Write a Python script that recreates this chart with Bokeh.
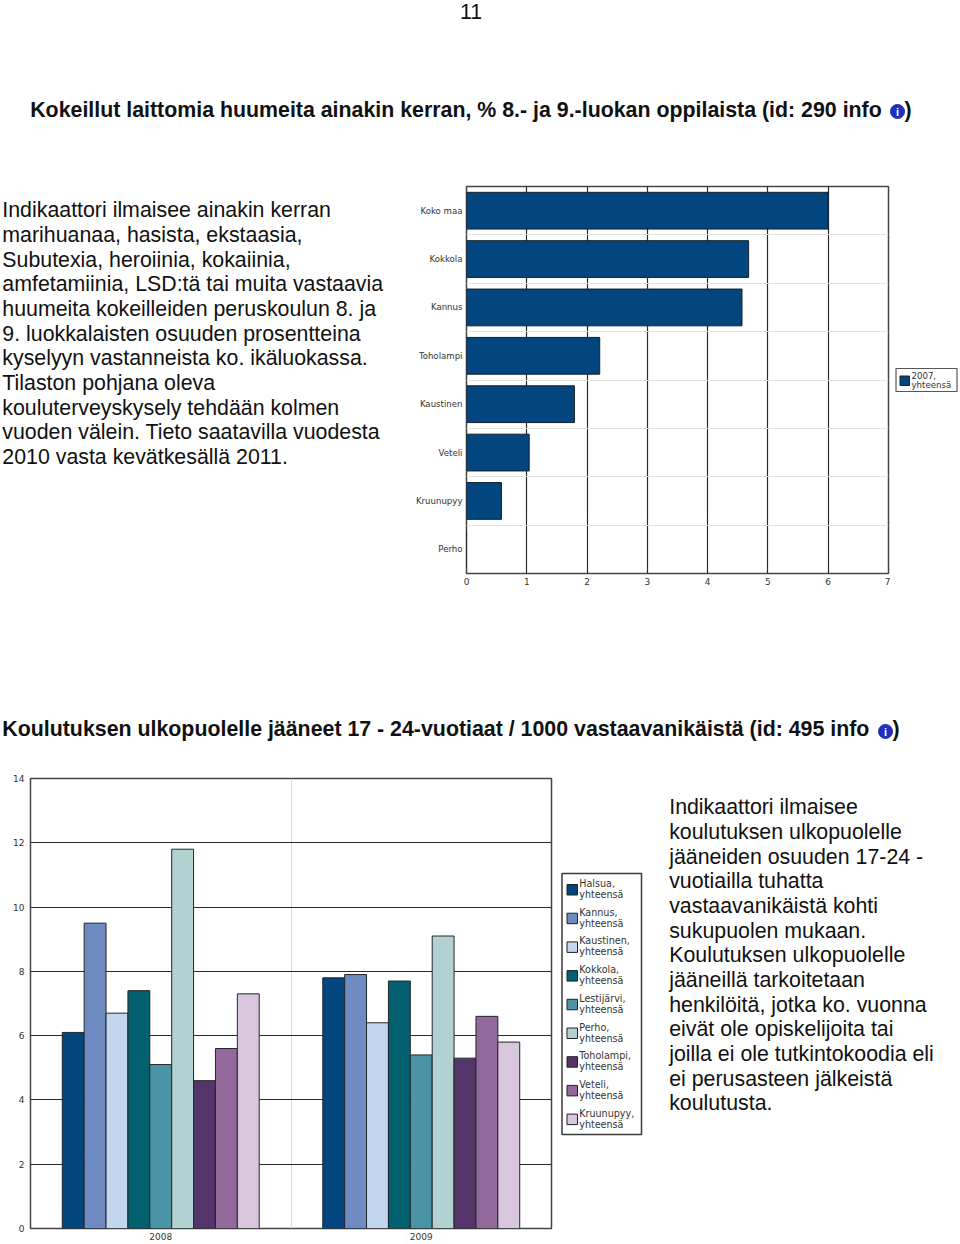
from bokeh.plotting import figure
from bokeh.layouts import column, row
from bokeh.models import Range1d, FixedTicker
from bokeh.core.properties import value
from bokeh.embed import file_html
from bokeh.resources import INLINE
import numpy as np

page_number = "11"
title1 = "Kokeillut laittomia huumeita ainakin kerran, % 8.- ja 9.-luokan oppilaista (id: 290 info"
title2 = "Koulutuksen ulkopuolelle jääneet 17 - 24-vuotiaat / 1000 vastaavanikäistä (id: 495 info"
para1 = ["Indikaattori ilmaisee ainakin kerran", "marihuanaa, hasista, ekstaasia,",
         "Subutexia, heroiinia, kokaiinia,", "amfetamiinia, LSD:tä tai muita vastaavia",
         "huumeita kokeilleiden peruskoulun 8. ja", "9. luokkalaisten osuuden prosentteina",
         "kyselyyn vastanneista ko. ikäluokassa.", "Tilaston pohjana oleva",
         "kouluterveyskysely tehdään kolmen", "vuoden välein. Tieto saatavilla vuodesta",
         "2010 vasta kevätkesällä 2011."]
para2 = ["Indikaattori ilmaisee", "koulutuksen ulkopuolelle", "jääneiden osuuden 17-24 -",
         "vuotiailla tuhatta", "vastaavanikäistä kohti", "sukupuolen mukaan.",
         "Koulutuksen ulkopuolelle", "jääneillä tarkoitetaan", "henkilöitä, jotka ko. vuonna",
         "eivät ole opiskelijoita tai", "joilla ei ole tutkintokoodia eli", "ei perusasteen jälkeistä",
         "koulutusta."]

areas1 = ["Koko maa", "Kokkola", "Kannus", "Toholampi", "Kaustinen", "Veteli", "Kruunupyy", "Perho"]
values1 = [6.0, 4.68, 4.57, 2.21, 1.79, 1.04, 0.58, 0.0]
series1_label = ["2007,", "yhteensä"]
series1_color = "#03457f"

years = ["2008", "2009"]
series2 = ["Halsua", "Kannus", "Kaustinen", "Kokkola", "Lestijärvi", "Perho", "Toholampi", "Veteli", "Kruunupyy"]
colors2 = ["#03457f", "#6d8bc0", "#c4d5ef", "#03606f", "#4b94a5", "#b2d1d1", "#55346a", "#92699a", "#d8c6dc"]
v2008 = [6.1, 9.5, 6.7, 7.4, 5.1, 11.8, 4.6, 5.6, 7.3]
v2009 = [7.8, 7.9, 6.4, 7.7, 5.4, 9.1, 5.3, 6.6, 5.8]

SANS = value("Liberation Sans")
SMALL = "DejaVu Sans"
INK = "#333333"


def page_fig(x0, x1, y0, y1, top=0, bottom=0):
    """A text-only panel whose data units are page pixels."""
    p = figure(width=x1 - x0, height=y1 - y0, x_range=Range1d(x0, x1), y_range=Range1d(y1 - bottom, y0 + top),
               x_axis_type=None, y_axis_type=None, toolbar_location=None, output_backend="svg",
               min_border_left=0, min_border_right=0, min_border_top=top, min_border_bottom=bottom,
               outline_line_color=None)
    p.grid.visible = False
    return p


def write(p, x, y, text, size="21.35px", bold=False, font=SANS, color="#111111", align="left"):
    p.text([x], [y], text=[text], text_font=font, text_font_size=size,
           text_font_style="bold" if bold else "normal", text_color=color,
           text_align=align, text_baseline="middle")


def info_icon(p, x, y):
    p.scatter([x], [y], size=14, marker="circle", fill_color="#1f2fc4", line_color="#1f2fa0")
    p.text([x], [y], text=["i"], text_font=SANS, text_font_size="11px", text_font_style="bold",
           text_color="white", text_align="center", text_baseline="middle")


def style_axis(ax, standoff=4, size="9px"):
    ax.axis_line_color = None
    ax.major_tick_line_color = None
    ax.minor_tick_line_color = None
    ax.major_tick_in = 0
    ax.major_tick_out = 0
    ax.minor_tick_in = 0
    ax.minor_tick_out = 0
    ax.major_label_text_font = SMALL
    ax.major_label_text_font_size = size
    ax.major_label_text_color = INK
    ax.major_label_standoff = standoff


# Header 1
h1 = page_fig(0, 960, 0, 178)
write(h1, 459.5, 11.3, page_number)
write(h1, 29.7, 109.2, title1, bold=True)
info_icon(h1, 897, 111)
write(h1, 904, 109.2, ")", bold=True)

# Left paragraph
left1 = page_fig(0, 405, 178, 600, top=8, bottom=27)
for i, line in enumerate(para1):
    write(left1, 1.8, 209.9 + i * 24.65, line)

# Chart 1
c1 = figure(width=485, height=422, x_range=Range1d(0, 7), y_range=Range1d(len(areas1), 0),
            toolbar_location=None, output_backend="svg", min_border_left=61, min_border_right=2,
            min_border_top=8, min_border_bottom=27, outline_line_color="#444444", outline_line_width=1.5)
pos1 = np.arange(len(areas1)) + 0.5
c1.hbar(y=pos1, right=values1, left=0, height=0.76, fill_color=series1_color, line_color="#16202c", line_width=1)
c1.xaxis.ticker = FixedTicker(ticks=list(range(8)))
c1.yaxis.ticker = FixedTicker(ticks=list(pos1))
c1.yaxis.major_label_overrides = {float(k): n for k, n in zip(pos1, areas1)}
c1.xgrid.ticker = FixedTicker(ticks=list(range(1, 7)))
c1.ygrid.ticker = FixedTicker(ticks=list(range(1, 8)))
c1.xgrid.grid_line_color = "#2a2a2a"
c1.xgrid.grid_line_width = 1.2
c1.ygrid.grid_line_color = "#e3e3e3"
c1.ygrid.grid_line_width = 1
style_axis(c1.xaxis[0])
style_axis(c1.yaxis[0], size="8.6px")

# Legend 1
leg1 = page_fig(890, 960, 178, 600, top=8, bottom=27)
leg1.quad(left=[895.5], right=[956.5], top=[368], bottom=[391], fill_color="white", line_color="#555555", line_width=1.2)
leg1.quad(left=[899.5], right=[909], top=[375.5], bottom=[385], fill_color=series1_color, line_color="#222222", line_width=1)
write(leg1, 911, 374.5, series1_label[0], size="8.6px", font=value(SMALL), color=INK)
write(leg1, 911, 384.5, series1_label[1], size="8.6px", font=value(SMALL), color=INK)

# Header 2
h2 = page_fig(0, 960, 600, 770)
write(h2, 1.8, 728.2, title2, bold=True)
info_icon(h2, 885, 731)
write(h2, 892, 728.2, ")", bold=True)

# Chart 2
c2 = figure(width=555, height=474, x_range=Range1d(0, len(years)), y_range=Range1d(0, 14),
            toolbar_location=None, output_backend="svg", min_border_left=30, min_border_right=4,
            min_border_top=8, min_border_bottom=16, outline_line_color="#444444", outline_line_width=1.5)
year_pos = np.arange(len(years)) + 0.5
bar_w = 0.084
for i, (name, col) in enumerate(zip(series2, colors2)):
    c2.vbar(x=year_pos + (i - 4) * bar_w, top=[v2008[i], v2009[i]], bottom=0, width=bar_w,
            fill_color=col, line_color="#22262c", line_width=1)
c2.xaxis.ticker = FixedTicker(ticks=list(year_pos))
c2.xaxis.major_label_overrides = {float(k): y for k, y in zip(year_pos, years)}
c2.yaxis.ticker = FixedTicker(ticks=list(range(0, 15, 2)))
c2.xgrid.ticker = FixedTicker(ticks=[1])
c2.ygrid.ticker = FixedTicker(ticks=list(range(2, 14, 2)))
c2.xgrid.grid_line_color = "#d8d8d8"
c2.ygrid.grid_line_color = "#2a2a2a"
c2.ygrid.grid_line_width = 1.2
style_axis(c2.xaxis[0])
style_axis(c2.yaxis[0], standoff=6)

# Legend 2 and right paragraph
side = page_fig(555, 960, 770, 1244, top=8, bottom=16)
side.quad(left=[561.5], right=[641], top=[873], bottom=[1134], fill_color="white", line_color="#3a3a3a", line_width=1.5)
for i, (name, col) in enumerate(zip(series2, colors2)):
    y = 889 + i * 28.7
    side.quad(left=[566.5], right=[577], top=[y - 5], bottom=[y + 5.5], fill_color=col, line_color="#222222", line_width=1)
    write(side, 578.7, y - 6, name + ",", size="9.6px", font=value(SMALL), color=INK)
    write(side, 578.7, y + 5, "yhteensä", size="9.6px", font=value(SMALL), color=INK)
for i, line in enumerate(para2):
    write(side, 668.7, 806.9 + i * 24.65, line)

root = column(h1, row(left1, c1, leg1, spacing=0), h2, row(c2, side, spacing=0), spacing=0)
open("out.html", "w").write(file_html(root, INLINE))
